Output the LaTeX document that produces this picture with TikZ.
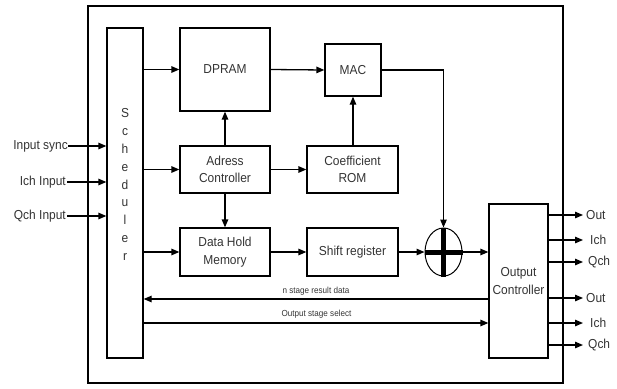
\documentclass[tikz,border=0pt]{standalone}
\usepackage{fontspec}
\setmainfont{Liberation Sans}[FakeStretch=0.92]
\usetikzlibrary{arrows.meta,shapes.geometric}
\begin{document}
\begin{tikzpicture}[x=1pt,y=-1pt,
  blk/.style={draw,line width=1.3pt,inner sep=0pt,align=center,text=black!80,font=\fontsize{13}{17.5}\selectfont},
  conn/.style={line width=1.3pt,-{Triangle[length=8pt,width=6.5pt]}},
  lbl/.style={inner sep=1pt,text=black!80,font=\fontsize{13}{15}\selectfont},
  small/.style={inner sep=0pt,text=black!80,font=\fontsize{8.8}{10}\selectfont}]
\useasboundingbox (0,0) rectangle (617,388);
\clip (0,0) rectangle (617,388);
% outer box
\draw[line width=1.5pt] (88,6) rectangle (563,383);
% blocks
\node[blk,minimum width=36pt,minimum height=330pt] (sched) at (125,193) {};
\node[font=\fontsize{13}{17.9}\selectfont,text=black!80,align=center,inner sep=0pt] (schedtxt) at (125,184.5) {S\\c\\h\\e\\d\\u\\l\\e\\r};
\node[blk,minimum width=90pt,minimum height=83pt] (dpram) at (225,69.5) {DPRAM};
\node[blk,minimum width=56pt,minimum height=52pt] (mac) at (353,70) {MAC};
\node[blk,minimum width=90pt,minimum height=47pt] (adr) at (225,169.5) {Adress\\Controller};
\node[blk,minimum width=91pt,minimum height=47pt] (coef) at (352.5,169.5) {Coefficient\\ROM};
\node[blk,minimum width=90pt,minimum height=48pt] (dhm) at (225,252) {Data Hold\\Memory};
\node[blk,minimum width=91pt,minimum height=48pt] (shift) at (352.5,252) {Shift register};
\node[draw,ellipse,line width=1pt,minimum width=37pt,minimum height=48pt,inner sep=0pt] (adder) at (443.5,252) {};
\draw[line width=5pt] (adder.north) -- (adder.south);
\draw[line width=5pt] (adder.west) -- (adder.east);
\node[blk,minimum width=59pt,minimum height=154pt] (outc) at (518.5,281) {Output\\Controller};
% inputs
\node[lbl,anchor=east,inner sep=0pt] (insync) at (68,146) {Input sync};
\node[lbl,anchor=east] (ich) at (67,182) {Ich Input};
\node[lbl,anchor=east] (qch) at (67,216) {Qch Input};
\draw[conn] (insync.east) -- (sched.west |- insync.east);
\draw[conn] (ich.east) -- (sched.west |- ich.east);
\draw[conn] (qch.east) -- (sched.west |- qch.east);
% scheduler to blocks
\draw[conn] (sched.east |- dpram) -- (dpram.west);
\draw[conn] (sched.east |- adr) -- (adr.west);
\draw[conn] (sched.east |- dhm) -- (dhm.west);
% internal
\draw[conn] (dpram.east) -- (mac.west);
\draw[conn] (adr.north) -- (dpram.south);
\draw[conn] (adr.south) -- (dhm.north);
\draw[conn] (adr.east) -- (coef.west);
\draw[conn] (coef.north -| mac) -- (mac.south);
\draw[conn] (dhm.east) -- (shift.west);
\draw[conn] (shift.east) -- (adder.west);
\draw[conn] (mac.east) -| (adder.north);
\draw[conn] (adder.east) -- (outc.west |- adder.east);
% feedback lines
\coordinate (ya) at (0,299);
\coordinate (yb) at (0,323);
\draw[conn] (outc.west |- ya) -- (sched.east |- ya);
\draw[conn] (sched.east |- yb) -- (outc.west |- yb);
\node[small] (nlab) at (316,291) {n stage result data};
\node[small] (olab) at (316.5,314) {Output stage select};
% outputs
\foreach \y/\n in {215/o1,240/o2,262/o3,298/o4,323/o5,345/o6}{
  \coordinate (s\n) at (548,\y);
  \coordinate (e\n) at (583,\y);
  \draw[conn] (s\n) -- (e\n);
}
\begin{scope}
\clip (0,0) rectangle (609.5,388);
\node[lbl,anchor=west,inner sep=0pt] (o1) at ([xshift=3pt]eo1) {Out};
\node[lbl,anchor=west,inner sep=0pt] (o2) at ([xshift=7pt]eo2) {Ich};
\node[lbl,anchor=west,inner sep=0pt] (o3) at ([xshift=5pt]eo3) {Qch};
\node[lbl,anchor=west,inner sep=0pt] (o4) at ([xshift=3pt]eo4) {Out};
\node[lbl,anchor=west,inner sep=0pt] (o5) at ([xshift=7pt]eo5) {Ich};
\node[lbl,anchor=west,inner sep=0pt] (o6) at ([xshift=5pt]eo6) {Qch};
\end{scope}
\end{tikzpicture}
\end{document}
